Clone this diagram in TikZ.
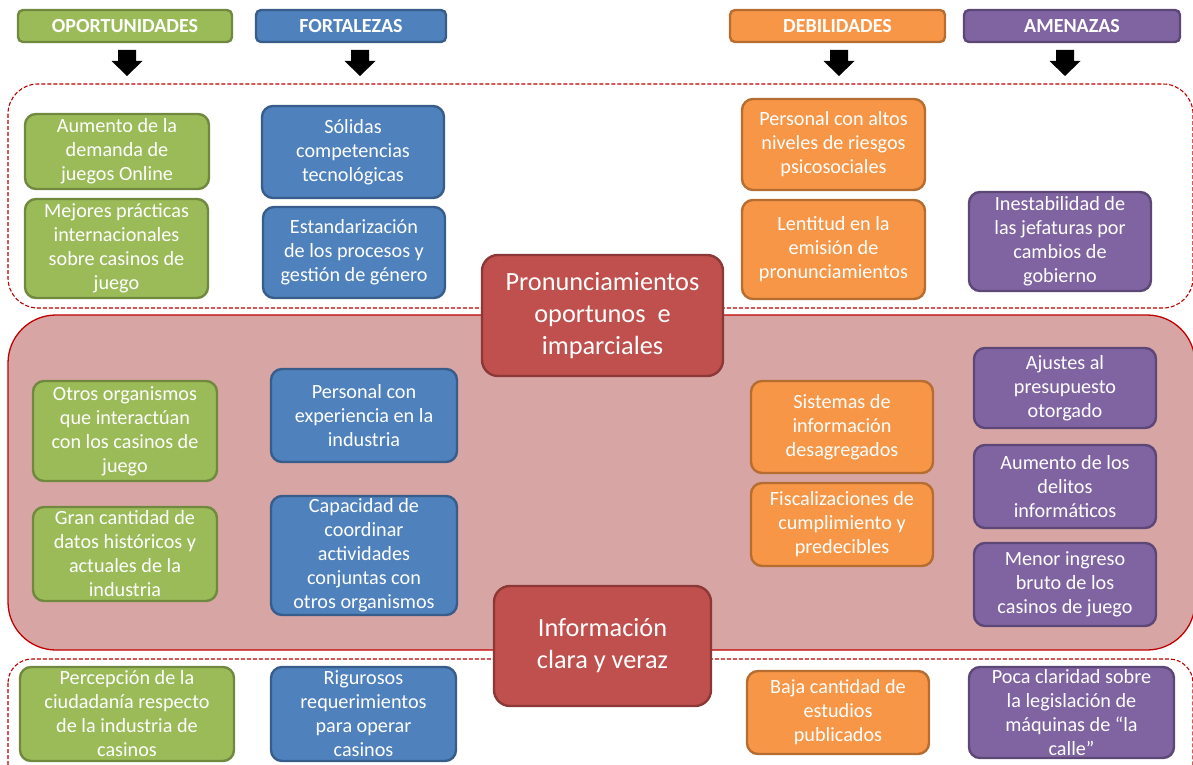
\documentclass[tikz,border=0pt]{standalone}
\usepackage{fontspec}
\setmainfont{Carlito}
\usetikzlibrary{calc}

\definecolor{gFill}{HTML}{9BBB59}\definecolor{gLine}{HTML}{71893F}
\definecolor{bFill}{HTML}{4F81BD}\definecolor{bLine}{HTML}{385D8A}
\definecolor{oFill}{HTML}{F79646}\definecolor{oLine}{HTML}{B66D31}
\definecolor{pFill}{HTML}{8064A2}\definecolor{pLine}{HTML}{5C4776}
\definecolor{rFill}{HTML}{C0504D}\definecolor{rLine}{HTML}{8C3836}
\definecolor{zoneFill}{HTML}{D8A5A5}\definecolor{zoneLine}{HTML}{C00000}

\tikzset{
  x=1pt, y=1pt,
  card/.style={rounded corners=11pt, line width=2.4pt, text=white, align=center,
    inner sep=0pt, font=\fontsize{20.2}{24}\selectfont},
  gcard/.style={card, fill=gFill, draw=gLine},
  bcard/.style={card, fill=bFill, draw=bLine},
  ocard/.style={card, fill=oFill, draw=oLine},
  pcard/.style={card, fill=pFill, draw=pLine},
  rcard/.style={card, fill=rFill, draw=rLine, rounded corners=16pt,
    font=\fontsize{26.3}{32}\selectfont},
  head/.style={rounded corners=5pt, line width=2.4pt, text=white, inner sep=0pt,
    minimum height=32pt, font=\fontsize{20}{22}\selectfont\bfseries},
  dzone/.style={draw=zoneLine, line width=1.1pt, dash pattern=on 4pt off 2pt},
  szone/.style={draw=zoneLine, line width=1.3pt, fill=zoneFill},
  darrow/.pic={\fill[black] (-9,0) -- (9,0) -- (9,-11) -- (15.5,-11) -- (0,-26)
    -- (-15.5,-11) -- (-9,-11) -- cycle;}
}

\begin{document}
\begin{tikzpicture}
\useasboundingbox (0,0) rectangle (1193,-765);

% zones
\path[dzone, rounded corners=30pt] (8,-84) rectangle (1193,-308);
\path[szone, rounded corners=48pt] (8,-315) rectangle (1195,-650);
\path[dzone, rounded corners=24pt] (8,-659) rectangle (1193,-820);

% column headers
\node[head, fill=gFill, draw=gLine, minimum width=214pt] (hO) at (125,-26) {OPORTUNIDADES};
\node[head, fill=bFill, draw=bLine, minimum width=190pt] (hF) at (351,-26) {FORTALEZAS};
\node[head, fill=oFill, draw=oLine, minimum width=215pt] (hD) at (837.5,-26) {DEBILIDADES};
\node[head, fill=pFill, draw=pLine, minimum width=216pt] (hA) at (1072,-26) {AMENAZAS};

% block arrows under headers
\coordinate (aO) at (127,-50);
\coordinate (aF) at (360,-50);
\coordinate (aD) at (839,-50);
\coordinate (aA) at (1065,-50);
\pic at (aO) {darrow};
\pic at (aF) {darrow};
\pic at (aD) {darrow};
\pic at (aA) {darrow};

% upper band
\node[gcard, minimum width=184pt, minimum height=75pt] (o1) at (117,-151.5) {Aumento de la\\demanda de\\juegos Online};
\node[gcard, minimum width=183pt, minimum height=99pt] (o2) at (116.5,-248.5) {Mejores prácticas\\internacionales\\sobre casinos de\\juego};
\node[bcard, minimum width=182pt, minimum height=92pt] (f1) at (353,-152) {Sólidas\\competencias\\tecnológicas};
\node[bcard, minimum width=182pt, minimum height=91pt] (f2) at (354,-252.5) {Estandarización\\de los procesos y\\gestión de género};
\node[ocard, minimum width=183pt, minimum height=91pt] (d1) at (833.5,-144.5) {Personal con altos\\niveles de riesgos\\psicosociales};
\node[ocard, minimum width=183pt, minimum height=99pt] (d2) at (833.5,-249.5) {Lentitud en la\\emisión de\\pronunciamientos};
\node[pcard, minimum width=182pt, minimum height=99pt] (a1) at (1060,-241.5) {Inestabilidad de\\las jefaturas por\\cambios de\\gobierno};

% middle band
\node[gcard, minimum width=184pt, minimum height=100pt] (o3) at (125,-431) {Otros organismos\\que interactúan\\con los casinos de\\juego};
\node[gcard, minimum width=184pt, minimum height=94pt] (o4) at (125,-554) {Gran cantidad de\\datos históricos y\\actuales de la\\industria};
\node[bcard, minimum width=186pt, minimum height=93pt] (f3) at (364,-415.5) {Personal con\\experiencia en la\\industria};
\node[bcard, minimum width=186pt, minimum height=119pt] (f4) at (364,-555.5) {Capacidad de\\coordinar\\actividades\\conjuntas con\\otros organismos};
\node[ocard, minimum width=182pt, minimum height=92pt] (d3) at (842,-427) {Sistemas de\\información\\desagregados};
\node[ocard, minimum width=182pt, minimum height=83pt] (d4) at (842,-524.5) {Fiscalizaciones de\\cumplimiento y\\predecibles};
\node[pcard, minimum width=182pt, minimum height=80pt] (a2) at (1065,-388) {Ajustes al\\presupuesto\\otorgado};
\node[pcard, minimum width=182pt, minimum height=83pt] (a3) at (1065,-486.5) {Aumento de los\\delitos\\informáticos};
\node[pcard, minimum width=182pt, minimum height=83pt] (a4) at (1065,-584.5) {Menor ingreso\\bruto de los\\casinos de juego};

% lower band
\node[gcard, minimum width=214pt, minimum height=94pt] (o5) at (127,-714) {Percepción de la\\ciudadanía respecto\\de la industria de\\casinos};
\node[bcard, minimum width=185pt, minimum height=94pt] (f5) at (363.5,-714) {Rigurosos\\requerimientos\\para operar\\casinos};
\node[ocard, minimum width=182pt, minimum height=83pt] (d5) at (838,-712.5) {Baja cantidad de\\estudios\\publicados};
\node[pcard, minimum width=205pt, minimum height=91pt] (a5) at (1071.5,-712.5) {Poca claridad sobre\\la legislación de\\máquinas de “la\\calle”};

% central statements
\node[rcard, minimum width=241pt, minimum height=121pt] (pr) at (602.5,-315.5) {Pronunciamientos\\oportunos \ e\\imparciales};
\node[rcard, minimum width=217pt, minimum height=120pt] (inf) at (602.5,-646) {Información\\clara y veraz};
\end{tikzpicture}
\end{document}
